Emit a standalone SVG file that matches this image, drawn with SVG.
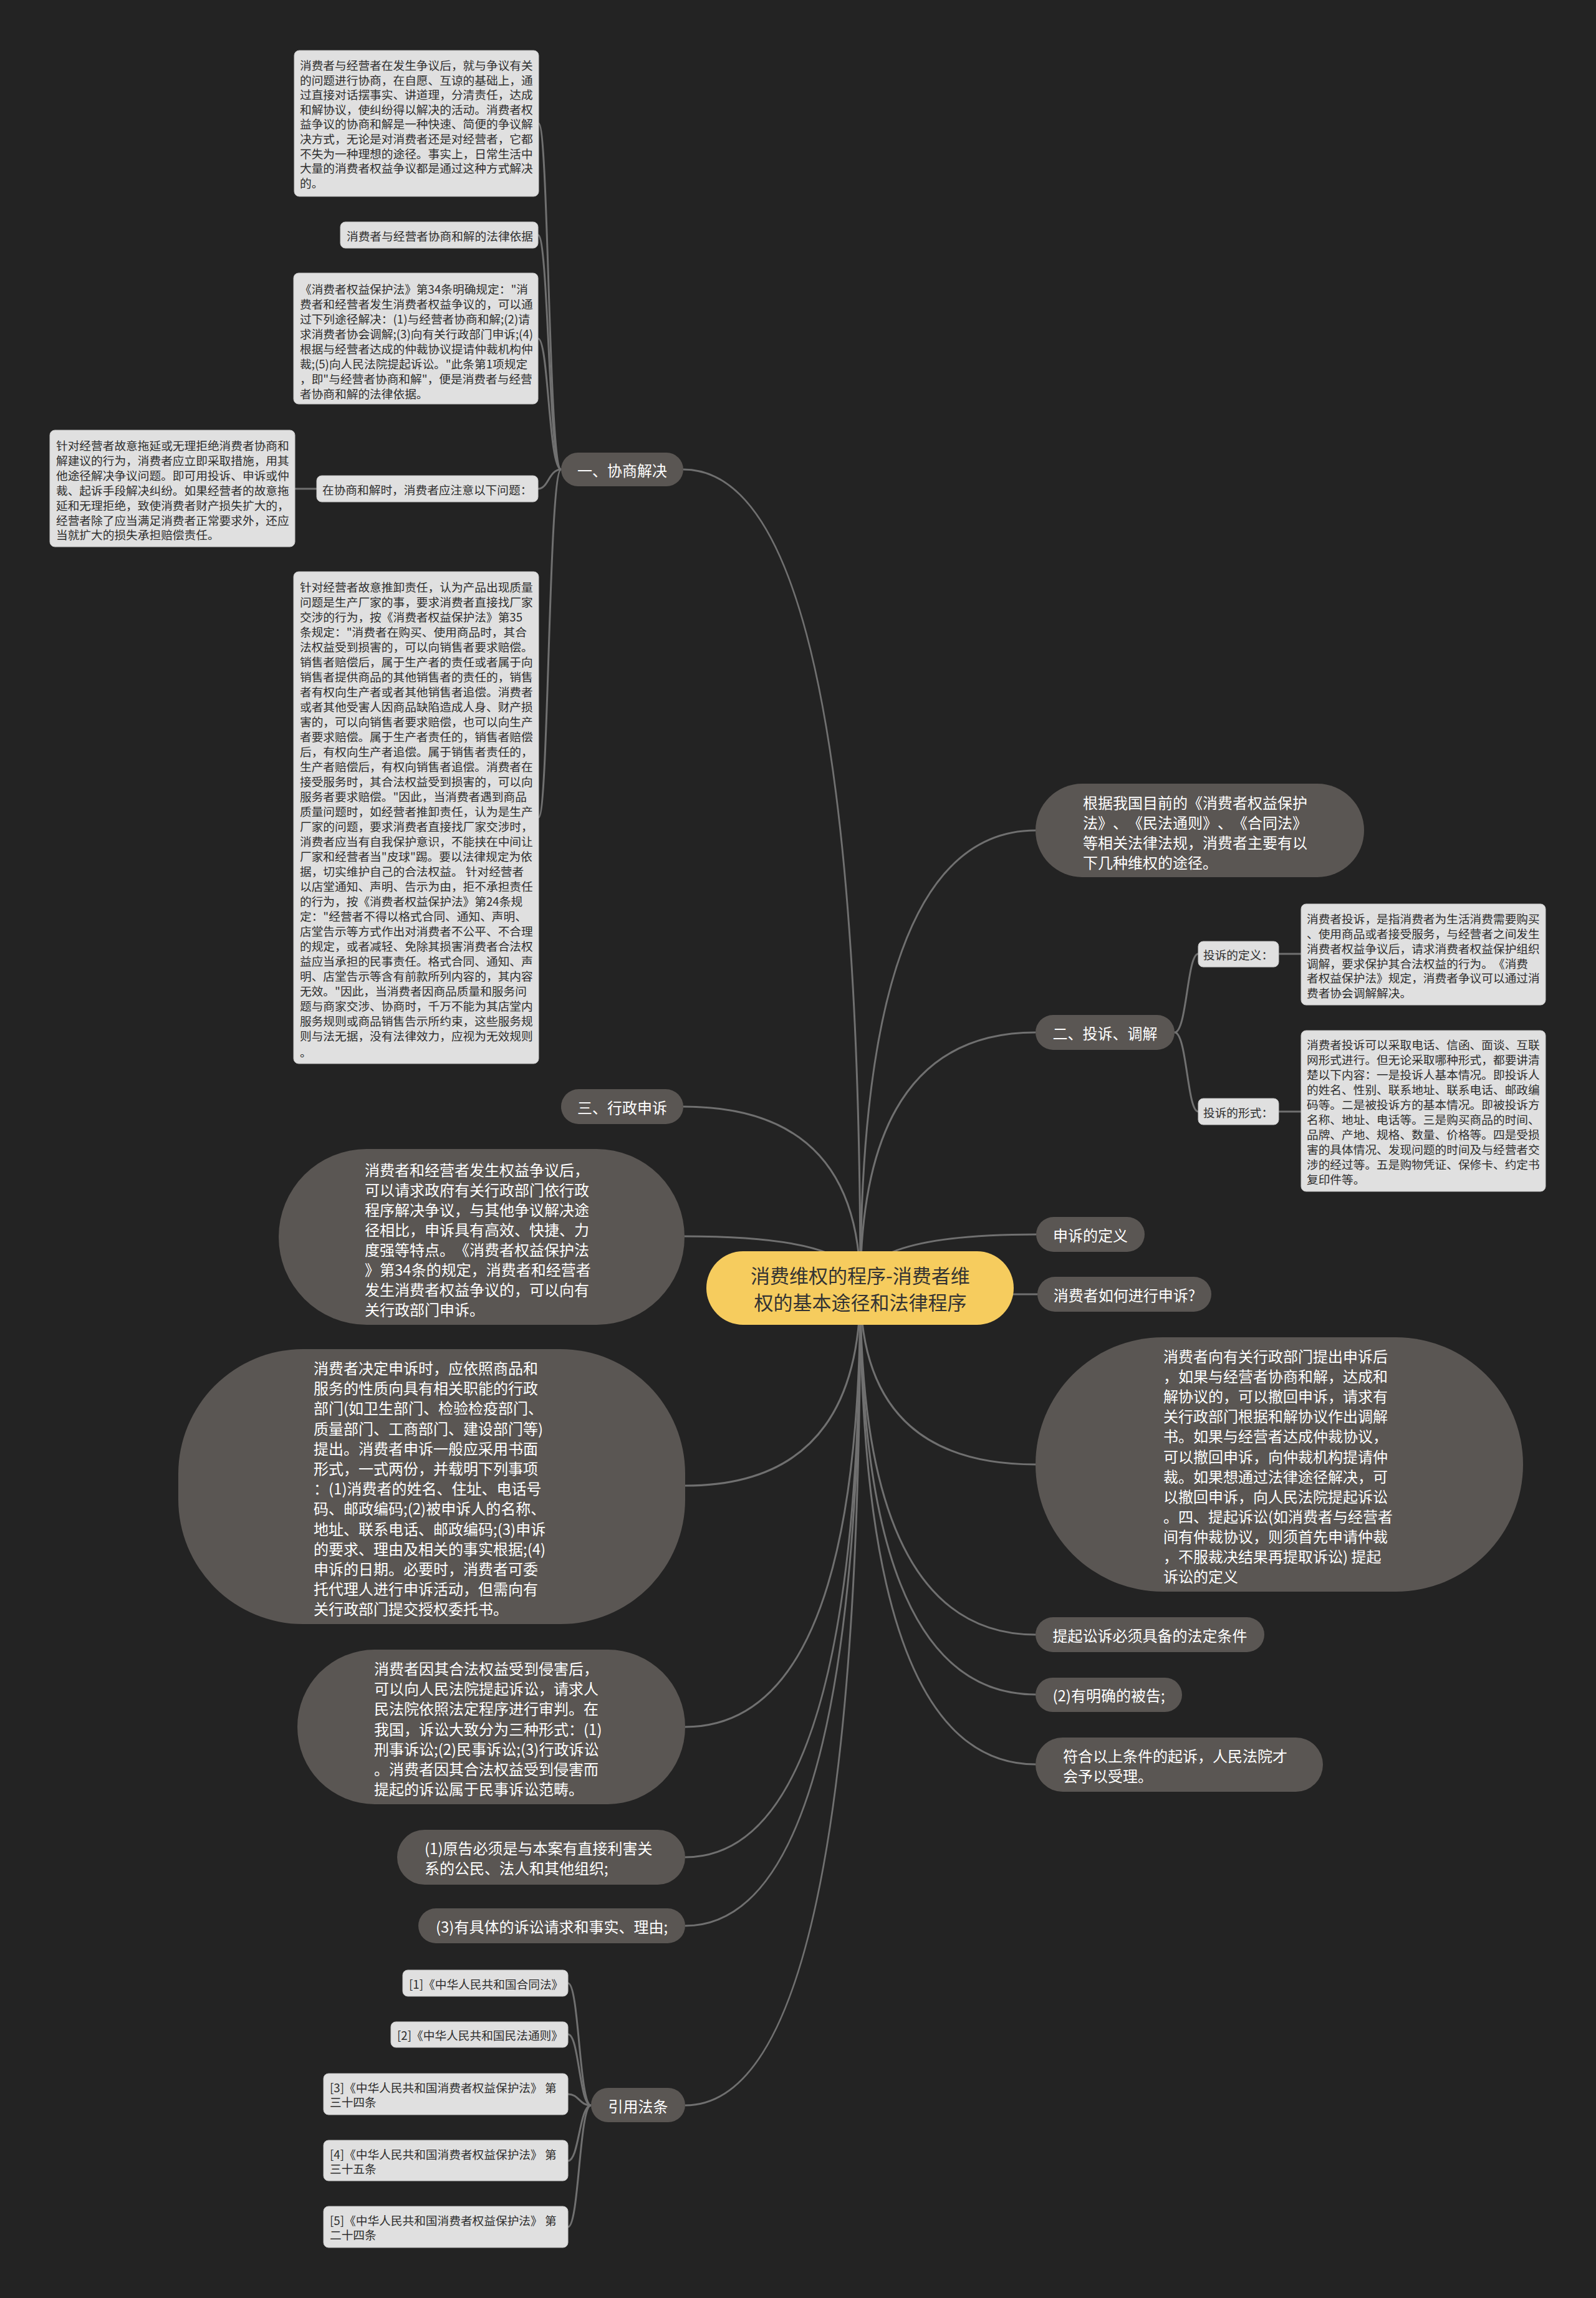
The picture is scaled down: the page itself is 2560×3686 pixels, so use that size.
<svg xmlns="http://www.w3.org/2000/svg" width="2560" height="3686" viewBox="0 0 2560 3686">
<style>
.bg{fill:#232323}
.c{fill:none;stroke:#707070;stroke-width:3}
.lb{fill:#e0e0e0;stroke:#c8c8c8;stroke-width:1}
.gn{fill:#5a5653}
.ct{fill:#f6cc5e}
text{text-spacing-trim:space-all}
.tl{font-family:"Noto Sans CJK SC","Noto Sans",sans-serif;font-size:18.7px;fill:#2e2e2e;dominant-baseline:central}
.tg{font-family:"Noto Sans CJK SC","Noto Sans",sans-serif;font-size:24px;fill:#ffffff;dominant-baseline:central}
.tc{font-family:"Noto Sans CJK SC","Noto Sans",sans-serif;font-size:31px;fill:#333333;dominant-baseline:central;text-anchor:middle}
.m{text-anchor:middle}
</style>
<rect class="bg" x="0" y="0" width="2560" height="3686"/>
<g id="connectors">
<path class="c" d="M1380,2066 Q1380,753 1096,753"/>
<path class="c" d="M1380,2066 Q1380,1775 1096,1775"/>
<path class="c" d="M1380,2066 Q1380,1983 1098,1983"/>
<path class="c" d="M1380,2066 Q1380,2383 1099,2383"/>
<path class="c" d="M1380,2066 Q1380,2770 1099,2770"/>
<path class="c" d="M1380,2066 Q1380,2979 1099,2979"/>
<path class="c" d="M1380,2066 Q1380,3089 1099,3089"/>
<path class="c" d="M1380,2066 Q1380,3377 1099,3377"/>
<path class="c" d="M1380,2066 Q1380,1332 1661,1332"/>
<path class="c" d="M1380,2066 Q1380,1656 1661,1656"/>
<path class="c" d="M1380,2066 Q1380,1980 1662,1980"/>
<path class="c" d="M1380,2066 Q1380,2076 1664,2076"/>
<path class="c" d="M1380,2066 Q1380,2349 1661,2349"/>
<path class="c" d="M1380,2066 Q1380,2622 1661,2622"/>
<path class="c" d="M1380,2066 Q1380,2718 1661,2718"/>
<path class="c" d="M1380,2066 Q1380,2830 1661,2830"/>
<path class="c" d="M900,753 C880,753 880,198 864,198"/>
<path class="c" d="M900,753 C880,753 880,377 863,377"/>
<path class="c" d="M900,753 C880,753 880,543 863,543"/>
<path class="c" d="M900,753 C880,753 880,784 863,784"/>
<path class="c" d="M900,753 C880,753 880,1311 864,1311"/>
<path class="c" d="M508,784 L473,784"/>
<path class="c" d="M1884,1656 C1904,1656 1904,1530 1922,1530"/>
<path class="c" d="M1884,1656 C1904,1656 1904,1783 1922,1783"/>
<path class="c" d="M2051,1530 L2087,1530"/>
<path class="c" d="M2051,1783 L2087,1783"/>
<path class="c" d="M948,3377 C929,3377 929,3181 911,3181"/>
<path class="c" d="M948,3377 C929,3377 929,3263 911,3263"/>
<path class="c" d="M948,3377 C929,3377 929,3359 911,3359"/>
<path class="c" d="M948,3377 C929,3377 929,3466 911,3466"/>
<path class="c" d="M948,3377 C929,3377 929,3572 911,3572"/>
</g>
<g id="center">
<rect class="ct" x="1133" y="2007" width="493" height="118" rx="59"/>
<text class="tc"><tspan x="1380" y="2044">消费维权的程序-消费者维</tspan><tspan x="1380" y="2087">权的基本途径和法律程序</tspan></text>
</g>
<g id="n-xieshang">
<rect class="gn" x="900" y="726" width="196" height="54" rx="27"/>
<text class="tg m" x="998" y="753">一、协商解决</text>
</g>
<g id="n-b1">
<rect class="lb" x="472" y="81" width="392" height="234" rx="8"/>
<text class="tl"><tspan x="481" y="103">消费者与经营者在发生争议后，就与争议有关</tspan><tspan x="481" y="126.6">的问题进行协商，在自愿、互谅的基础上，通</tspan><tspan x="481" y="150.2">过直接对话摆事实、讲道理，分清责任，达成</tspan><tspan x="481" y="173.8">和解协议，使纠纷得以解决的活动。消费者权</tspan><tspan x="481" y="197.4">益争议的协商和解是一种快速、简便的争议解</tspan><tspan x="481" y="221">决方式，无论是对消费者还是对经营者，它都</tspan><tspan x="481" y="244.6">不失为一种理想的途径。事实上，日常生活中</tspan><tspan x="481" y="268.2">大量的消费者权益争议都是通过这种方式解决</tspan><tspan x="481" y="291.8">的。</tspan></text>
</g>
<g id="n-b2">
<rect class="lb" x="546" y="356" width="317" height="42" rx="8"/>
<text class="tl" x="556" y="377">消费者与经营者协商和解的法律依据</text>
</g>
<g id="n-b3">
<rect class="lb" x="471" y="438" width="392" height="210" rx="8"/>
<text class="tl"><tspan x="481" y="462">《消费者权益保护法》第34条明确规定："消</tspan><tspan x="481" y="486">费者和经营者发生消费者权益争议的，可以通</tspan><tspan x="481" y="510">过下列途径解决：(1)与经营者协商和解;(2)请</tspan><tspan x="481" y="534">求消费者协会调解;(3)向有关行政部门申诉;(4)</tspan><tspan x="481" y="558">根据与经营者达成的仲裁协议提请仲裁机构仲</tspan><tspan x="481" y="582">裁;(5)向人民法院提起诉讼。"此条第1项规定</tspan><tspan x="481" y="606">，即"与经营者协商和解"，便是消费者与经营</tspan><tspan x="481" y="630">者协商和解的法律依据。</tspan></text>
</g>
<g id="n-b4">
<rect class="lb" x="508" y="763" width="355" height="42" rx="8"/>
<text class="tl" x="517" y="784">在协商和解时，消费者应注意以下问题：</text>
</g>
<g id="n-b5">
<rect class="lb" x="80" y="690" width="393" height="187" rx="8"/>
<text class="tl"><tspan x="90" y="713">针对经营者故意拖延或无理拒绝消费者协商和</tspan><tspan x="90" y="736.9">解建议的行为，消费者应立即采取措施，用其</tspan><tspan x="90" y="760.8">他途径解决争议问题。即可用投诉、申诉或仲</tspan><tspan x="90" y="784.7">裁、起诉手段解决纠纷。如果经营者的故意拖</tspan><tspan x="90" y="808.6">延和无理拒绝，致使消费者财产损失扩大的，</tspan><tspan x="90" y="832.5">经营者除了应当满足消费者正常要求外，还应</tspan><tspan x="90" y="856.4">当就扩大的损失承担赔偿责任。</tspan></text>
</g>
<g id="n-b6">
<rect class="lb" x="471" y="917" width="393" height="789" rx="8"/>
<text class="tl"><tspan x="481" y="940">针对经营者故意推卸责任，认为产品出现质量</tspan><tspan x="481" y="964">问题是生产厂家的事，要求消费者直接找厂家</tspan><tspan x="481" y="988">交涉的行为，按《消费者权益保护法》第35</tspan><tspan x="481" y="1012">条规定："消费者在购买、使用商品时，其合</tspan><tspan x="481" y="1036">法权益受到损害的，可以向销售者要求赔偿。</tspan><tspan x="481" y="1060">销售者赔偿后，属于生产者的责任或者属于向</tspan><tspan x="481" y="1084">销售者提供商品的其他销售者的责任的，销售</tspan><tspan x="481" y="1108">者有权向生产者或者其他销售者追偿。消费者</tspan><tspan x="481" y="1132">或者其他受害人因商品缺陷造成人身、财产损</tspan><tspan x="481" y="1156">害的，可以向销售者要求赔偿，也可以向生产</tspan><tspan x="481" y="1180">者要求赔偿。属于生产者责任的，销售者赔偿</tspan><tspan x="481" y="1204">后，有权向生产者追偿。属于销售者责任的，</tspan><tspan x="481" y="1228">生产者赔偿后，有权向销售者追偿。消费者在</tspan><tspan x="481" y="1252">接受服务时，其合法权益受到损害的，可以向</tspan><tspan x="481" y="1276">服务者要求赔偿。"因此，当消费者遇到商品</tspan><tspan x="481" y="1300">质量问题时，如经营者推卸责任，认为是生产</tspan><tspan x="481" y="1324">厂家的问题，要求消费者直接找厂家交涉时，</tspan><tspan x="481" y="1348">消费者应当有自我保护意识，不能挟在中间让</tspan><tspan x="481" y="1372">厂家和经营者当"皮球"踢。要以法律规定为依</tspan><tspan x="481" y="1396">据，切实维护自己的合法权益。 针对经营者</tspan><tspan x="481" y="1420">以店堂通知、声明、告示为由，拒不承担责任</tspan><tspan x="481" y="1444">的行为，按《消费者权益保护法》第24条规</tspan><tspan x="481" y="1468">定："经营者不得以格式合同、通知、声明、</tspan><tspan x="481" y="1492">店堂告示等方式作出对消费者不公平、不合理</tspan><tspan x="481" y="1516">的规定，或者减轻、免除其损害消费者合法权</tspan><tspan x="481" y="1540">益应当承担的民事责任。格式合同、通知、声</tspan><tspan x="481" y="1564">明、店堂告示等含有前款所列内容的，其内容</tspan><tspan x="481" y="1588">无效。"因此，当消费者因商品质量和服务问</tspan><tspan x="481" y="1612">题与商家交涉、协商时，千万不能为其店堂内</tspan><tspan x="481" y="1636">服务规则或商品销售告示所约束，这些服务规</tspan><tspan x="481" y="1660">则与法无据，没有法律效力，应视为无效规则</tspan><tspan x="481" y="1686">。</tspan></text>
</g>
<g id="n-xingzheng">
<rect class="gn" x="900" y="1747" width="196" height="56" rx="28"/>
<text class="tg m" x="998" y="1775">三、行政申诉</text>
</g>
<g id="n-shensu1">
<rect class="gn" x="447" y="1843" width="651" height="282" rx="141"/>
<text class="tg"><tspan x="585" y="1875">消费者和经营者发生权益争议后，</tspan><tspan x="585" y="1907">可以请求政府有关行政部门依行政</tspan><tspan x="585" y="1939">程序解决争议，与其他争议解决途</tspan><tspan x="585" y="1971">径相比，申诉具有高效、快捷、力</tspan><tspan x="585" y="2003">度强等特点。《消费者权益保护法</tspan><tspan x="585" y="2035">》第34条的规定，消费者和经营者</tspan><tspan x="585" y="2067">发生消费者权益争议的，可以向有</tspan><tspan x="585" y="2099">关行政部门申诉。</tspan></text>
</g>
<g id="n-shensu2">
<rect class="gn" x="286" y="2164" width="813" height="441" rx="200"/>
<text class="tg"><tspan x="503" y="2193">消费者决定申诉时，应依照商品和</tspan><tspan x="503" y="2225.2">服务的性质向具有相关职能的行政</tspan><tspan x="503" y="2257.4">部门(如卫生部门、检验检疫部门、</tspan><tspan x="503" y="2289.6">质量部门、工商部门、建设部门等)</tspan><tspan x="503" y="2321.8">提出。消费者申诉一般应采用书面</tspan><tspan x="503" y="2354">形式，一式两份，并载明下列事项</tspan><tspan x="503" y="2386.2">：(1)消费者的姓名、住址、电话号</tspan><tspan x="503" y="2418.4">码、邮政编码;(2)被申诉人的名称、</tspan><tspan x="503" y="2450.6">地址、联系电话、邮政编码;(3)申诉</tspan><tspan x="503" y="2482.8">的要求、理由及相关的事实根据;(4)</tspan><tspan x="503" y="2515">申诉的日期。必要时，消费者可委</tspan><tspan x="503" y="2547.2">托代理人进行申诉活动，但需向有</tspan><tspan x="503" y="2579.4">关行政部门提交授权委托书。</tspan></text>
</g>
<g id="n-susong">
<rect class="gn" x="477" y="2646" width="622" height="248" rx="124"/>
<text class="tg"><tspan x="600" y="2675">消费者因其合法权益受到侵害后，</tspan><tspan x="600" y="2707.2">可以向人民法院提起诉讼，请求人</tspan><tspan x="600" y="2739.4">民法院依照法定程序进行审判。在</tspan><tspan x="600" y="2771.6">我国，诉讼大致分为三种形式：(1)</tspan><tspan x="600" y="2803.8">刑事诉讼;(2)民事诉讼;(3)行政诉讼</tspan><tspan x="600" y="2836">。消费者因其合法权益受到侵害而</tspan><tspan x="600" y="2868.2">提起的诉讼属于民事诉讼范畴。</tspan></text>
</g>
<g id="n-cond1">
<rect class="gn" x="637" y="2935" width="462" height="88" rx="44"/>
<text class="tg"><tspan x="681" y="2963">(1)原告必须是与本案有直接利害关</tspan><tspan x="681" y="2995">系的公民、法人和其他组织;</tspan></text>
</g>
<g id="n-cond3">
<rect class="gn" x="671" y="3061" width="428" height="56" rx="28"/>
<text class="tg m" x="885" y="3089">(3)有具体的诉讼请求和事实、理由;</text>
</g>
<g id="n-fatiao">
<rect class="gn" x="948" y="3349" width="151" height="55" rx="27.5"/>
<text class="tg m" x="1023.5" y="3377">引用法条</text>
</g>
<g id="n-ref1">
<rect class="lb" x="646" y="3160" width="265" height="42" rx="8"/>
<text class="tl" x="656" y="3181">[1]《中华人民共和国合同法》</text>
</g>
<g id="n-ref2">
<rect class="lb" x="627" y="3243" width="284" height="41" rx="8"/>
<text class="tl" x="637" y="3263.5">[2]《中华人民共和国民法通则》</text>
</g>
<g id="n-ref3">
<rect class="lb" x="519" y="3326" width="392" height="66" rx="8"/>
<text class="tl"><tspan x="529" y="3347">[3]《中华人民共和国消费者权益保护法》 第</tspan><tspan x="529" y="3370">三十四条</tspan></text>
</g>
<g id="n-ref4">
<rect class="lb" x="519" y="3433" width="392" height="65" rx="8"/>
<text class="tl"><tspan x="529" y="3454">[4]《中华人民共和国消费者权益保护法》 第</tspan><tspan x="529" y="3477">三十五条</tspan></text>
</g>
<g id="n-ref5">
<rect class="lb" x="519" y="3539" width="392" height="66" rx="8"/>
<text class="tl"><tspan x="529" y="3560">[5]《中华人民共和国消费者权益保护法》 第</tspan><tspan x="529" y="3583">二十四条</tspan></text>
</g>
<g id="n-genju">
<rect class="gn" x="1661" y="1257" width="527" height="150" rx="75"/>
<text class="tg"><tspan x="1737" y="1286">根据我国目前的《消费者权益保护</tspan><tspan x="1737" y="1318">法》、《民法通则》、《合同法》</tspan><tspan x="1737" y="1350">等相关法律法规，消费者主要有以</tspan><tspan x="1737" y="1382">下几种维权的途径。</tspan></text>
</g>
<g id="n-tousu">
<rect class="gn" x="1661" y="1628" width="223" height="56" rx="28"/>
<text class="tg m" x="1772.5" y="1656">二、投诉、调解</text>
</g>
<g id="n-dingyi">
<rect class="lb" x="1922" y="1510" width="129" height="41" rx="8"/>
<text class="tl" x="1930" y="1530.5">投诉的定义：</text>
</g>
<g id="n-xingshi">
<rect class="lb" x="1922" y="1762" width="129" height="42" rx="8"/>
<text class="tl" x="1930" y="1783">投诉的形式：</text>
</g>
<g id="n-dingyi-t">
<rect class="lb" x="2087" y="1450" width="392" height="162" rx="8"/>
<text class="tl"><tspan x="2096" y="1472">消费者投诉，是指消费者为生活消费需要购买</tspan><tspan x="2096" y="1495.9">、使用商品或者接受服务，与经营者之间发生</tspan><tspan x="2096" y="1519.7">消费者权益争议后，请求消费者权益保护组织</tspan><tspan x="2096" y="1543.6">调解，要求保护其合法权益的行为。《消费</tspan><tspan x="2096" y="1567.4">者权益保护法》规定，消费者争议可以通过消</tspan><tspan x="2096" y="1591.3">费者协会调解解决。</tspan></text>
</g>
<g id="n-xingshi-t">
<rect class="lb" x="2087" y="1653" width="392" height="258" rx="8"/>
<text class="tl"><tspan x="2096" y="1674">消费者投诉可以采取电话、信函、面谈、互联</tspan><tspan x="2096" y="1698">网形式进行。但无论采取哪种形式，都要讲清</tspan><tspan x="2096" y="1722">楚以下内容：一是投诉人基本情况。即投诉人</tspan><tspan x="2096" y="1746">的姓名、性别、联系地址、联系电话、邮政编</tspan><tspan x="2096" y="1770">码等。二是被投诉方的基本情况。即被投诉方</tspan><tspan x="2096" y="1794">名称、地址、电话等。三是购买商品的时间、</tspan><tspan x="2096" y="1818">品牌、产地、规格、数量、价格等。四是受损</tspan><tspan x="2096" y="1842">害的具体情况、发现问题的时间及与经营者交</tspan><tspan x="2096" y="1866">涉的经过等。五是购物凭证、保修卡、约定书</tspan><tspan x="2096" y="1890">复印件等。</tspan></text>
</g>
<g id="n-ssdy">
<rect class="gn" x="1662" y="1952" width="174" height="56" rx="28"/>
<text class="tg m" x="1749" y="1980">申诉的定义</text>
</g>
<g id="n-ruhe">
<rect class="gn" x="1664" y="2048" width="279" height="56" rx="28"/>
<text class="tg m" x="1803.5" y="2076">消费者如何进行申诉?</text>
</g>
<g id="n-chehui">
<rect class="gn" x="1661" y="2145" width="782" height="408" rx="204"/>
<text class="tg"><tspan x="1866" y="2174">消费者向有关行政部门提出申诉后</tspan><tspan x="1866" y="2206.1">，如果与经营者协商和解，达成和</tspan><tspan x="1866" y="2238.2">解协议的，可以撤回申诉，请求有</tspan><tspan x="1866" y="2270.3">关行政部门根据和解协议作出调解</tspan><tspan x="1866" y="2302.4">书。如果与经营者达成仲裁协议，</tspan><tspan x="1866" y="2334.5">可以撤回申诉，向仲裁机构提请仲</tspan><tspan x="1866" y="2366.6">裁。如果想通过法律途径解决，可</tspan><tspan x="1866" y="2398.7">以撤回申诉，向人民法院提起诉讼</tspan><tspan x="1866" y="2430.8">。四、提起诉讼(如消费者与经营者</tspan><tspan x="1866" y="2462.9">间有仲裁协议，则须首先申请仲裁</tspan><tspan x="1866" y="2495">，不服裁决结果再提取诉讼) 提起</tspan><tspan x="1866" y="2527.1">诉讼的定义</tspan></text>
</g>
<g id="n-tiaojian">
<rect class="gn" x="1661" y="2594" width="367" height="56" rx="28"/>
<text class="tg m" x="1844.5" y="2622">提起讼诉必须具备的法定条件</text>
</g>
<g id="n-cond2">
<rect class="gn" x="1661" y="2691" width="235" height="55" rx="27.5"/>
<text class="tg m" x="1778.5" y="2718.5">(2)有明确的被告;</text>
</g>
<g id="n-shouli">
<rect class="gn" x="1661" y="2787" width="461" height="87" rx="43.5"/>
<text class="tg"><tspan x="1705" y="2815">符合以上条件的起诉，人民法院才</tspan><tspan x="1705" y="2847">会予以受理。</tspan></text>
</g>
</svg>
